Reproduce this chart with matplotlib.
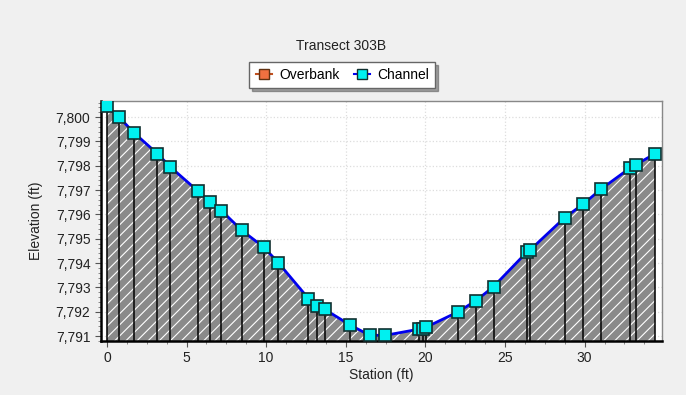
import matplotlib.pyplot as plt
from matplotlib.ticker import MultipleLocator, FuncFormatter
from matplotlib.lines import Line2D

plt.rcParams['font.family'] = ['Liberation Sans', 'DejaVu Sans']
plt.rcParams['hatch.color'] = 'white'
plt.rcParams['hatch.linewidth'] = 0.8

# surveyed transect points
station = [0.0, 0.77, 1.71, 3.17, 3.99, 5.70, 6.50, 7.19, 8.48, 9.84, 10.76,
           12.66, 13.17, 13.67, 15.28, 16.51, 17.49, 19.58, 19.85, 20.04,
           22.04, 23.19, 24.28, 26.40, 26.55, 28.75, 29.90, 31.05, 32.83,
           33.20, 34.43]
elevation = [7800.45, 7800.00, 7799.35, 7798.50, 7797.95, 7796.97, 7796.50,
             7796.16, 7795.34, 7794.66, 7794.02, 7792.54, 7792.22, 7792.10,
             7791.45, 7791.03, 7791.03, 7791.28, 7791.30, 7791.36, 7791.99,
             7792.46, 7793.03, 7794.47, 7794.52, 7795.87, 7796.42, 7797.05,
             7797.90, 7798.04, 7798.50]

ymin, ymax = 7790.8, 7800.66

fig = plt.figure(figsize=(6.86, 3.95), dpi=100, facecolor='#f0f0f0')
ax = fig.add_axes([0.147, 0.137, 0.818, 0.607])
ax.set_facecolor('white')

ax.fill_between(station, elevation, ymin, facecolor='#8a8a8a', edgecolor='white',
                hatch='///', linewidth=0, zorder=2)
ax.vlines(station, ymin, elevation, colors='black', linewidth=1.1, zorder=3)
ax.plot(station, elevation, color='#0000ee', linewidth=2, zorder=4)
ax.plot(station, elevation, linestyle='none', marker='s', markersize=9,
        markerfacecolor='#00f0f0', markeredgecolor='#103030', markeredgewidth=1.2,
        zorder=5)

ax.set_xlim(-0.38, 34.86)
ax.set_ylim(ymin, ymax)
ax.xaxis.set_major_locator(MultipleLocator(5))
ax.xaxis.set_minor_locator(MultipleLocator(1.25))
ax.yaxis.set_major_locator(MultipleLocator(1))
ax.yaxis.set_minor_locator(MultipleLocator(0.2))
ax.yaxis.set_major_formatter(FuncFormatter(lambda v, p: f'{v:,.0f}'))
ax.tick_params(axis='both', which='major', labelsize=10, length=4, color='#555555',
               labelcolor='#222222')
ax.tick_params(axis='both', which='minor', length=2, color='#777777')
ax.grid(True, which='major', color='#dddddd', linestyle=':', linewidth=0.9, zorder=0)

for side in ['top', 'right']:
    ax.spines[side].set_color('#888888')
    ax.spines[side].set_linewidth(1)
ax.spines['left'].set_color('black')
ax.spines['left'].set_linewidth(1.8)
ax.spines['bottom'].set_color('black')
ax.spines['bottom'].set_linewidth(1.8)

ax.set_xlabel('Station (ft)', fontsize=10, color='#222222', labelpad=2)
ax.set_ylabel('Elevation (ft)', fontsize=10, color='#222222', labelpad=9)

fig.text(0.497, 0.883, 'Transect 303B', ha='center', va='center', fontsize=10,
         color='#222222')

handles = [
    Line2D([], [], color='#c05020', linewidth=1.5, marker='s', markersize=7,
           markerfacecolor='#f07040', markeredgecolor='#603010'),
    Line2D([], [], color='#0000ee', linewidth=1.5, marker='s', markersize=7,
           markerfacecolor='#00f0f0', markeredgecolor='#103030'),
]
leg = fig.legend(handles, ['Overbank', 'Channel'], loc='center',
                 bbox_to_anchor=(0.499, 0.81), ncol=2, fontsize=10,
                 frameon=True, fancybox=False, shadow=True, handlelength=1.2,
                 handletextpad=0.5, columnspacing=1.0, borderpad=0.45,
                 borderaxespad=0)
leg.get_frame().set_edgecolor('#666666')
leg.get_frame().set_linewidth(1)

fig.savefig('out.png', dpi=100, facecolor=fig.get_facecolor())
